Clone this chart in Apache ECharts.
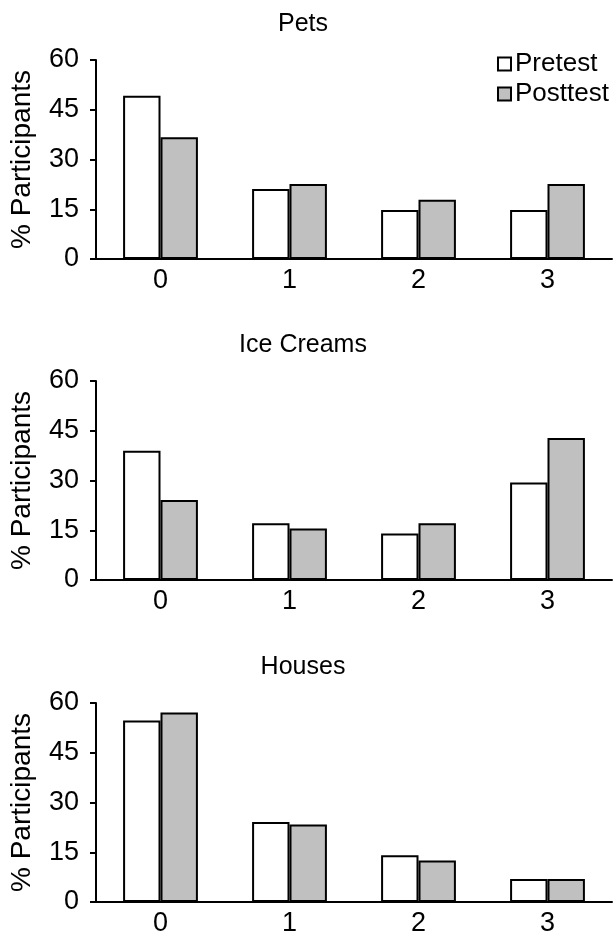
<!DOCTYPE html>
<html><head><meta charset="utf-8">
<script src="https://cdn.jsdelivr.net/npm/echarts@6/dist/echarts.min.js"></script>
<style>html,body{margin:0;padding:0;background:#fff}#c{width:615px;height:937px}</style>
</head><body><div id="c"></div>
<script>
var categories = ['0','1','2','3'];
var titles = ['Pets','Ice Creams','Houses'];
var yTicks = [0,15,30,45,60];
var petsPre = [49.2, 21.1, 14.8, 14.8];
var petsPost = [36.7, 22.6, 17.9, 22.6];
var icePre = [39.0, 17.1, 14.0, 29.4];
var icePost = [24.1, 15.5, 17.1, 42.8];
var housesPre = [54.7, 24.1, 14.1, 6.9];
var housesPost = [57.1, 23.4, 12.5, 6.9];

var FONT = 'Liberation Sans, Arial, Helvetica, sans-serif';
var pre = [petsPre, icePre, housesPre];
var post = [petsPost, icePost, housesPost];
var tops = [60, 381, 703];
var H = 199;

var grids = [], xAxes = [], yAxes = [], series = [], titleObjs = [];
for (var i = 0; i < 3; i++) {
  grids.push({left: 91, right: 3, top: tops[i], height: H, containLabel: false});
  titleObjs.push({text: titles[i], left: 298, textAlign: 'center', top: tops[i] - 53,
    textStyle: {fontFamily: FONT, fontSize: 25, fontWeight: 'normal', color: '#000'}});
  xAxes.push({type: 'category', gridIndex: i, data: categories,
    axisLine: {lineStyle: {color: '#000', width: 2}},
    axisTick: {show: false},
    axisLabel: {fontFamily: FONT, fontSize: 27, color: '#000', margin: 8}});
  yAxes.push({type: 'value', gridIndex: i, min: yTicks[0], max: yTicks[yTicks.length-1], interval: 15,
    name: '% Participants', nameLocation: 'middle', nameGap: 60, nameRotate: 90,
    nameTextStyle: {fontFamily: FONT, fontSize: 28, color: '#000'},
    axisLine: {show: true, lineStyle: {color: '#000', width: 2}},
    axisTick: {show: true, length: 6, lineStyle: {color: '#000', width: 2}},
    splitLine: {show: false},
    axisLabel: {fontFamily: FONT, fontSize: 27, color: '#000', margin: 17}});
  series.push({name: 'Pretest', type: 'bar', xAxisIndex: i, yAxisIndex: i, data: pre[i],
    barGap: '0%', barCategoryGap: '42%',
    itemStyle: {color: '#fff', borderColor: '#000', borderWidth: 2}});
  series.push({name: 'Posttest', type: 'bar', xAxisIndex: i, yAxisIndex: i, data: post[i],
    barGap: '0%', barCategoryGap: '42%',
    itemStyle: {color: '#c0c0c0', borderColor: '#000', borderWidth: 2}});
}

var chart = echarts.init(document.getElementById('c'), null, {renderer: 'canvas'});
chart.setOption({
  animation: false,
  backgroundColor: '#fff',
  title: titleObjs,
  legend: {data: ['Pretest','Posttest'], orient: 'vertical', left: 497, top: 51, padding: 0,
    icon: 'rect', itemWidth: 13, itemHeight: 13, itemGap: 4,
    textStyle: {fontFamily: FONT, fontSize: 26, color: '#000', padding: [0,0,0,-1]}},
  grid: grids, xAxis: xAxes, yAxis: yAxes, series: series
});
</script></body></html>
